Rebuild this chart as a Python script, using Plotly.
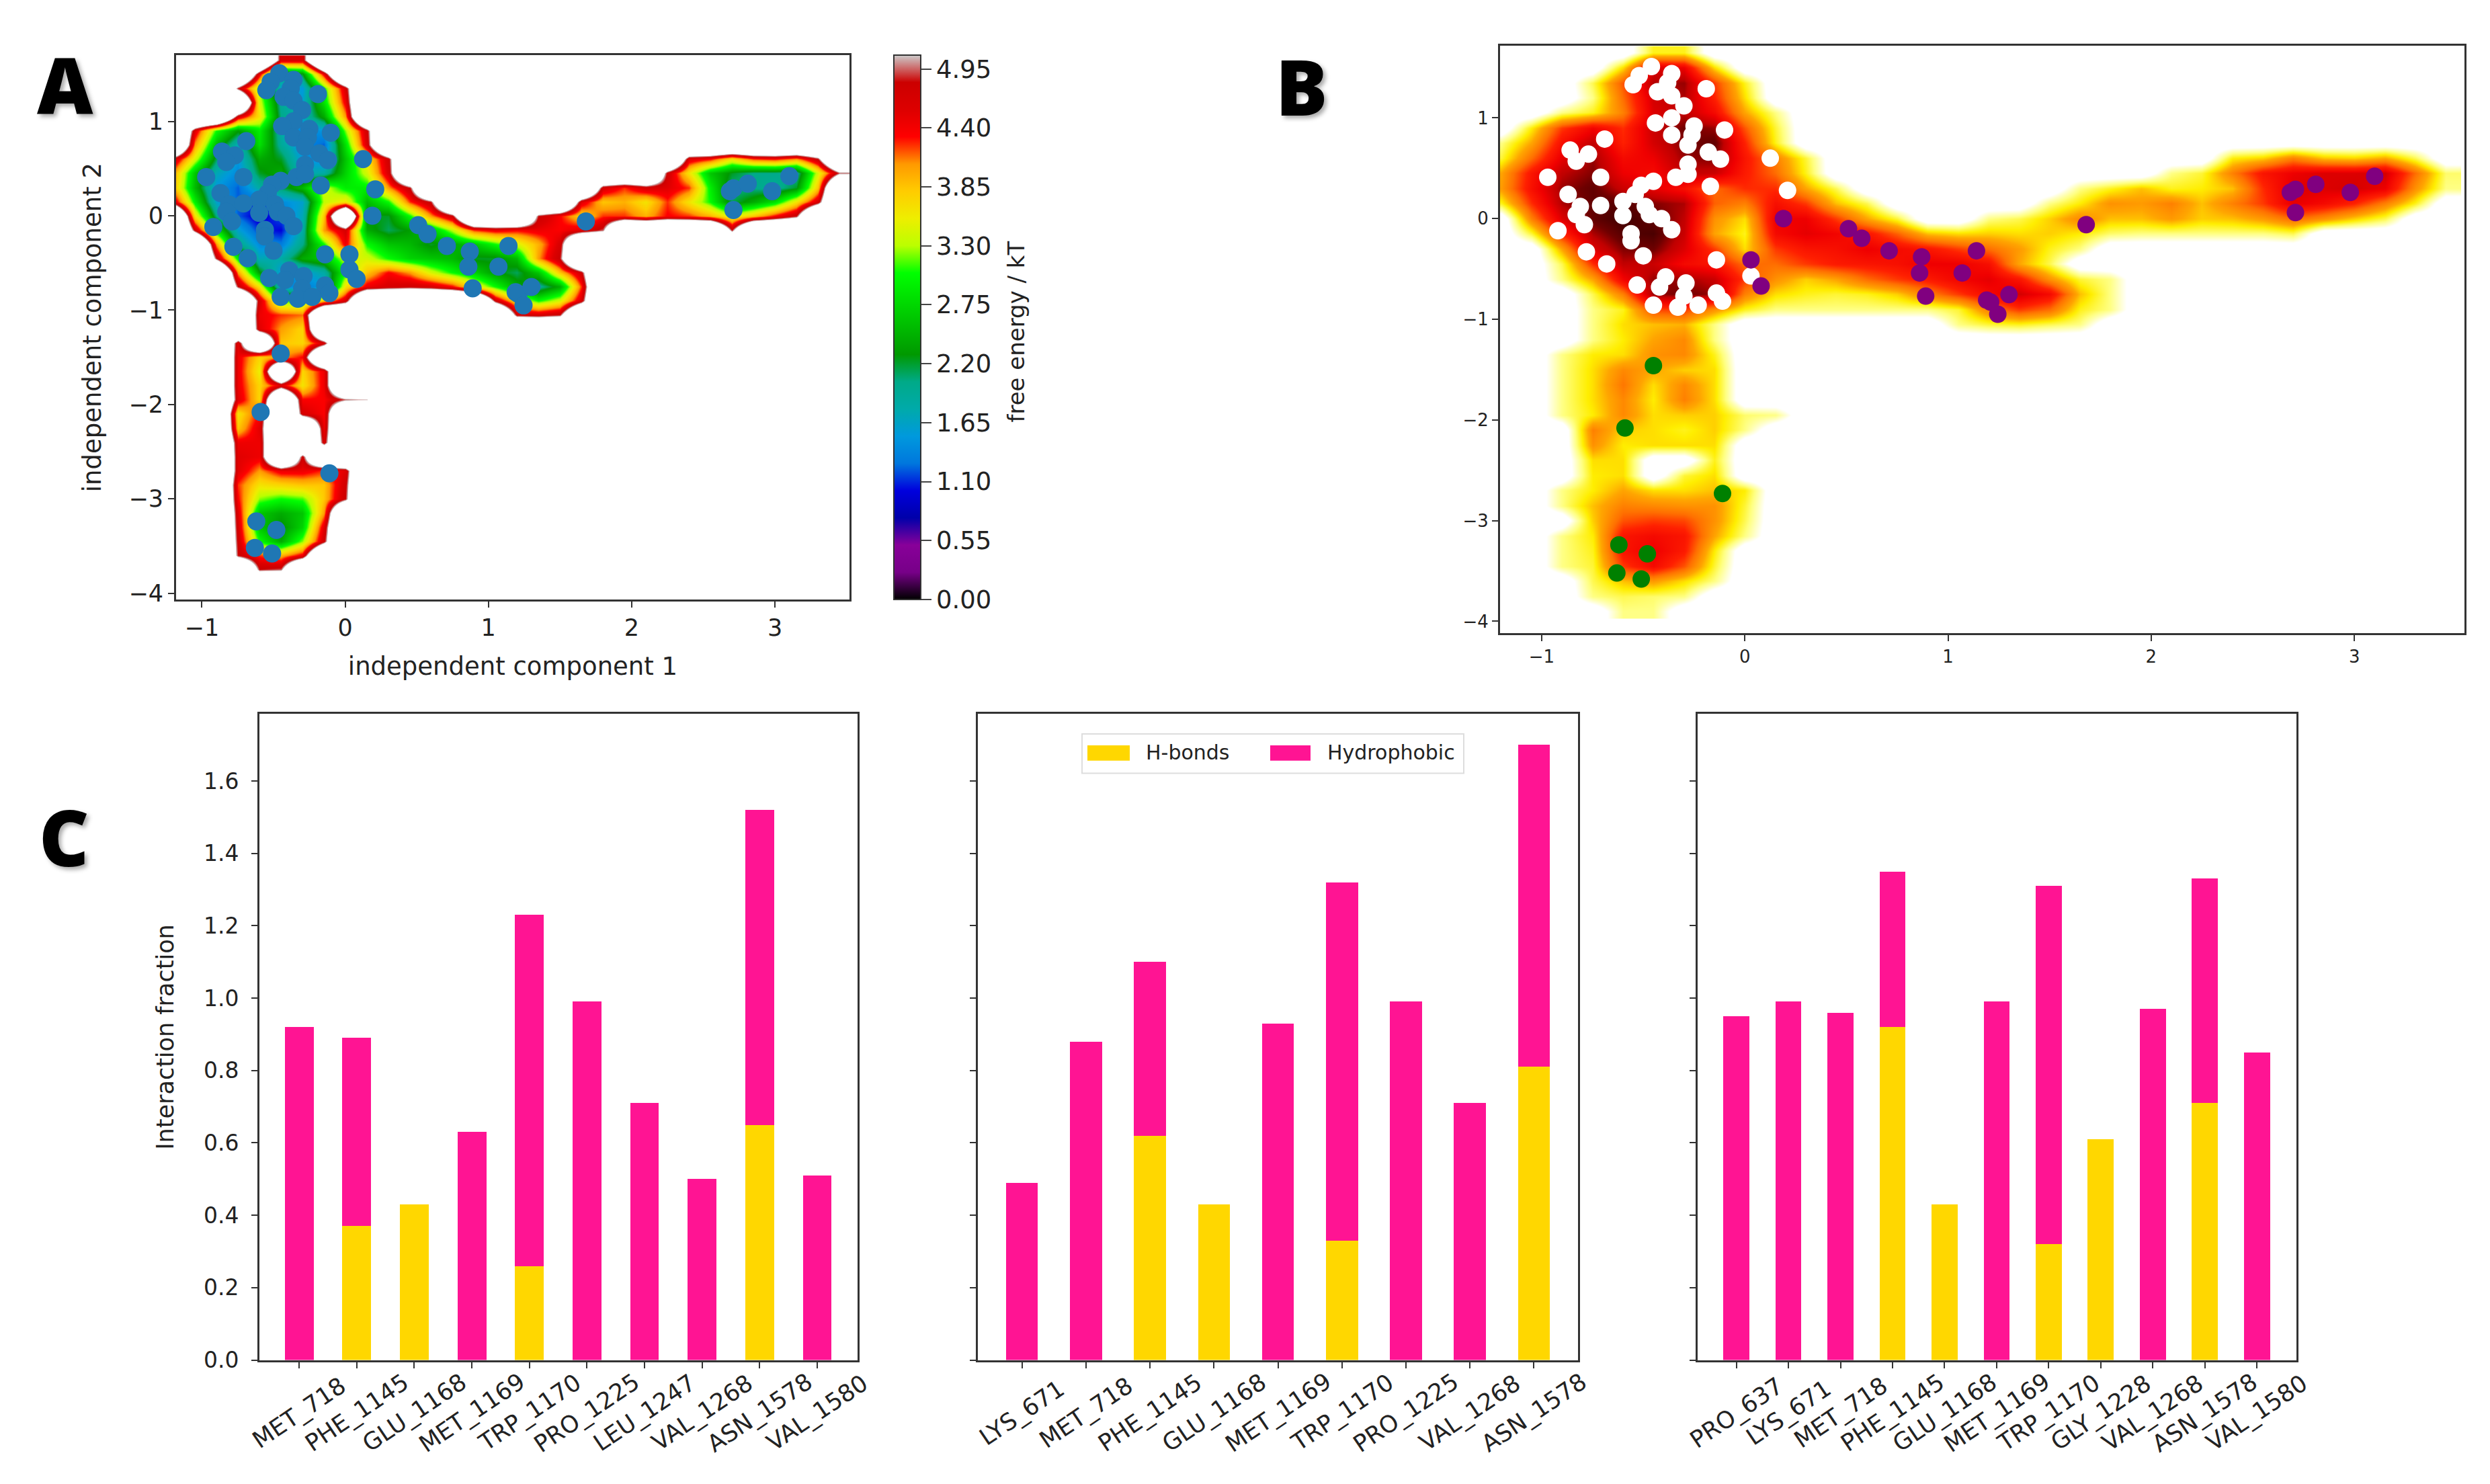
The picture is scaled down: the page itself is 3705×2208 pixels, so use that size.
import numpy as np
import plotly.graph_objects as go

W, H = 3705, 2208
PAD_X = 8  # the page sits a few px in from the window corner

# free energy grid
# 9 = nothing drawn in either map, 7 = gap in A only (B has yellow/orange there), 8 = gap in A, faint yellow in B
grid_x = [-1.2, -1.05, -0.9, -0.75, -0.6, -0.45, -0.3, -0.15, 0, 0.15, 0.3, 0.45, 0.6, 0.75, 0.9, 1.05,
          1.2, 1.35, 1.5, 1.65, 1.8, 1.95, 2.1, 2.25, 2.4, 2.55, 2.7, 2.85, 3.0, 3.15, 3.3, 3.45]
grid_y = [1.65, 1.5, 1.35, 1.2, 1.05, 0.9, 0.75, 0.6, 0.45, 0.3, 0.15, 0, -0.15, -0.3, -0.45, -0.6, -0.75, -0.9,
          -1.05, -1.2, -1.35, -1.5, -1.65, -1.8, -1.95, -2.1, -2.25, -2.4, -2.55, -2.7, -2.85, -3.0, -3.15, -3.3,
          -3.45, -3.6, -3.75, -3.9]
fe_rows = [
    [9, 9, 9, 9, 9, 4.6, 4.6],
    [9, 9, 9, 9, 4.4, 2.0, 2.2, 4.4],
    [9, 9, 9, 4.8, 3.2, 1.6, 1.5, 3.0, 4.6],
    [9, 9, 9, 8, 3.4, 1.9, 1.6, 2.8, 4.4],
    [9, 9, 8, 4.6, 3.6, 2.0, 1.7, 2.4, 4.0, 8],
    [9, 4.5, 3.0, 2.3, 2.9, 1.8, 1.3, 1.5, 3.2, 4.7],
    [8, 4.0, 2.5, 1.7, 2.8, 1.9, 1.4, 1.2, 2.8, 4.6],
    [4.7, 3.4, 2.1, 1.5, 2.4, 2.2, 1.5, 1.4, 2.6, 3.6, 4.7, 9, 9, 9, 9, 9, 9, 9, 9, 9, 9, 9, 9, 9, 4.5, 4.3, 3.6, 4.2, 4.3, 4.0, 4.8],
    [4.0, 2.6, 1.7, 1.4, 2.2, 2.4, 1.7, 1.8, 2.7, 3.4, 4.6, 9, 9, 9, 9, 9, 9, 9, 9, 9, 9, 9, 8, 4.7, 3.6, 2.6, 2.2, 2.0, 2.0, 1.9, 3.4, 4.9],
    [3.9, 2.5, 1.5, 1.2, 1.8, 2.1, 2.5, 3.4, 2.9, 2.9, 4.0, 4.8, 9, 9, 9, 9, 9, 9, 9, 8, 4.6, 4.2, 4.6, 4.5, 4.2, 2.9, 2.0, 2.0, 1.9, 2.2, 3.8, 8],
    [4.6, 2.9, 1.6, 1.2, 1.1, 1.4, 1.6, 3.3, 3.6, 2.5, 3.0, 4.2, 4.8, 9, 9, 9, 9, 9, 8, 4.5, 3.8, 3.9, 3.6, 4.2, 3.6, 3.0, 2.1, 2.4, 2.8, 3.6, 4.6],
    [9, 3.6, 2.0, 1.2, 0.9, 1.2, 1.7, 3.8, 7, 2.2, 2.2, 3.0, 4.0, 4.7, 9, 9, 8, 4.8, 4.3, 3.7, 4.2, 4.2, 3.9, 4.3, 4.2, 3.9, 3.4, 3.8, 4.3, 4.8],
    [9, 4.7, 2.8, 1.6, 1.1, 1.0, 1.8, 4.0, 4.6, 2.4, 2.1, 2.3, 2.6, 3.3, 4.2, 4.4, 4.3, 4.4, 4.3, 4.5, 4.9, 8, 8, 8, 8, 8, 4.8],
    [9, 9, 4.0, 2.0, 1.4, 1.3, 2.0, 3.0, 4.4, 3.0, 2.6, 2.5, 2.2, 2.4, 2.6, 3.0, 3.4, 3.9, 4.6, 8],
    [9, 9, 4.8, 2.9, 1.7, 1.8, 2.4, 2.6, 3.4, 3.4, 3.0, 2.7, 2.6, 2.5, 2.2, 2.2, 2.5, 4.0, 4.8],
    [9, 9, 8, 4.0, 2.3, 1.5, 1.5, 1.8, 3.0, 3.8, 4.3, 4.0, 3.4, 3.0, 2.7, 2.3, 2.1, 2.6, 3.8, 4.7, 8],
    [9, 9, 9, 4.8, 3.6, 1.5, 1.3, 1.5, 3.6, 4.4, 4.6, 4.7, 4.6, 4.3, 3.6, 3.0, 2.4, 1.9, 2.4, 4.2, 8],
    [9, 9, 9, 8, 4.6, 3.1, 3.0, 3.8, 4.6, 8, 8, 8, 8, 8, 8, 4.7, 3.6, 3.0, 3.4, 4.6, 8],
    [9, 9, 9, 8, 4.4, 4.2, 4.1, 8, 9, 9, 9, 9, 9, 9, 9, 8, 4.7, 4.6, 4.8, 8],
    [9, 9, 9, 8, 4.5, 4.0, 3.7, 8],
    [9, 9, 8, 4.5, 7, 3.8, 3.7, 4.6],
    [9, 9, 8, 4.4, 3.7, 4.0, 4.3, 7],
    [9, 9, 8, 4.4, 3.5, 7, 3.7, 4.4],
    [9, 9, 8, 4.4, 3.7, 4.5, 3.6, 4.4],
    [9, 9, 8, 4.5, 3.7, 7, 4.3, 4.3, 4.9, 5.0],
    [9, 9, 9, 3.6, 4.3, 7, 4.6, 4.3, 8],
    [9, 9, 9, 3.8, 4.5, 7, 7, 4.4],
    [9, 9, 9, 4.4, 4.4, 9, 9, 4.6],
    [9, 9, 9, 4.5, 4.4, 9, 4.7, 7],
    [9, 9, 8, 4.5, 4.0, 4.4, 4.4, 4.2, 4.5],
    [9, 9, 8, 4.2, 3.6, 3.7, 3.8, 3.8, 4.7],
    [9, 9, 9, 4.3, 3.2, 3.0, 3.1, 3.8, 4.8],
    [9, 9, 8, 4.5, 2.6, 2.4, 2.6, 4.0, 8],
    [9, 9, 8, 4.6, 2.6, 2.2, 2.7, 4.5],
    [9, 9, 8, 4.7, 3.0, 2.4, 3.2, 4.7],
    [9, 9, 9, 4.8, 4.2, 3.9, 4.4, 8],
    [9, 9, 9, 8, 4.8, 4.9, 8],
    [9, 9, 9, 9, 8, 8],
]
fe_rows = [r + [9] * (len(grid_x) - len(r)) for r in fe_rows]
fe = np.array(fe_rows, dtype=float)
fe_a = np.where(fe > 6, 7.5, fe)
fe_b = np.where(fe == 9, 6.0, np.where(fe == 7, 4.4, np.where(fe == 8, 5.0, fe)))

# projected points, same coordinates in A and B
white_x = [-0.46, -0.36, -0.52, -0.55, -0.38, -0.43, -0.19, -0.36, -0.30, -0.36, -0.44, -0.25, -0.10, -0.36, -0.26,
           -0.69, -0.28, -0.86, -0.77, -0.83, -0.18, -0.12, 0.125, -0.28, -0.97, -0.71, -0.34, -0.28, -0.45, -0.51,
           -0.17, 0.21, -0.87, -0.54, -0.60, -0.81, -0.71, -0.49, -0.83, -0.60, -0.47, -0.41, -0.79, -0.92, -0.36,
           -0.56, -0.56, -0.78, -0.50, -0.68, -0.14, 0.03, -0.39, -0.29, -0.53, -0.42, -0.14, -0.30, -0.11, -0.45,
           -0.33, -0.23]
white_y = [1.51, 1.44, 1.42, 1.33, 1.35, 1.26, 1.29, 1.22, 1.12, 1.00, 0.95, 0.92, 0.88, 0.83, 0.83,
           0.79, 0.73, 0.68, 0.64, 0.57, 0.66, 0.59, 0.60, 0.54, 0.41, 0.41, 0.41, 0.44, 0.37, 0.33,
           0.32, 0.28, 0.24, 0.24, 0.17, 0.12, 0.13, 0.12, 0.04, 0.03, 0.04, 0.0, -0.06, -0.12, -0.11,
           -0.15, -0.22, -0.33, -0.37, -0.45, -0.41, -0.57, -0.58, -0.64, -0.66, -0.68, -0.74, -0.77, -0.82, -0.86,
           -0.88, -0.86]
purple_x = [0.03, 0.08, 0.19, 0.51, 0.575, 0.71, 0.87, 0.86, 0.89, 1.07, 1.14, 1.19, 1.21, 1.30, 1.245, 1.68,
            2.685, 2.71, 2.71, 2.81, 2.98, 3.10]
purple_y = [-0.41, -0.67, 0.0, -0.10, -0.195, -0.32, -0.38, -0.54, -0.77, -0.54, -0.32, -0.81, -0.83, -0.755, -0.95,
            -0.06, 0.26, 0.29, 0.06, 0.34, 0.26, 0.42]
green_x = [-0.45, -0.59, -0.11, -0.62, -0.48, -0.63, -0.51]
green_y = [-1.46, -2.08, -2.73, -3.24, -3.33, -3.52, -3.58]

# interaction bars
res_1 = ["MET_718", "PHE_1145", "GLU_1168", "MET_1169", "TRP_1170", "PRO_1225", "LEU_1247", "VAL_1268", "ASN_1578", "VAL_1580"]
hb_1 = [0, 0.37, 0.43, 0, 0.26, 0, 0, 0, 0.65, 0]
hyd_1 = [0.92, 0.52, 0, 0.63, 0.97, 0.99, 0.71, 0.50, 0.87, 0.51]
res_2 = ["LYS_671", "MET_718", "PHE_1145", "GLU_1168", "MET_1169", "TRP_1170", "PRO_1225", "VAL_1268", "ASN_1578"]
hb_2 = [0, 0, 0.62, 0.43, 0, 0.33, 0, 0, 0.81]
hyd_2 = [0.49, 0.88, 0.48, 0, 0.93, 0.99, 0.99, 0.71, 0.89]
res_3 = ["PRO_637", "LYS_671", "MET_718", "PHE_1145", "GLU_1168", "MET_1169", "TRP_1170", "GLY_1228", "VAL_1268", "ASN_1578", "VAL_1580"]
hb_3 = [0, 0, 0, 0.92, 0.43, 0, 0.32, 0.61, 0, 0.71, 0]
hyd_3 = [0.95, 0.99, 0.96, 0.43, 0, 0.99, 0.99, 0, 0.97, 0.62, 0.85]

cbar_ticks = [0, 0.55, 1.10, 1.65, 2.20, 2.75, 3.30, 3.85, 4.40, 4.95]
c_ticks = [0, 0.2, 0.4, 0.6, 0.8, 1.0, 1.2, 1.4, 1.6]

FE_MAX = 5.08
spectral = [[0, "#000000"], [0.05, "#770088"], [0.10, "#880099"], [0.15, "#0000aa"], [0.20, "#0000dd"],
            [0.25, "#0077dd"], [0.30, "#0099dd"], [0.35, "#00aaaa"], [0.40, "#00aa88"], [0.45, "#009900"],
            [0.50, "#00bb00"], [0.55, "#00dd00"], [0.60, "#00ff00"], [0.65, "#bbff00"], [0.70, "#eeee00"],
            [0.75, "#ffcc00"], [0.80, "#ff9900"], [0.85, "#ff0000"], [0.90, "#dd0000"], [0.95, "#cc0000"],
            [1, "#cccccc"]]
# same colours squeezed so everything above the top of the colorbar is white
spectral_fill = [[s * FE_MAX / 7.5 * 0.99, c] for s, c in spectral] + [[FE_MAX / 7.5, "#ffffff"], [1, "#ffffff"]]
hot = [[0, "#400000"], [0.15, "#400000"], [0.22, "#700000"], [0.28, "#c00000"], [0.37, "#f00000"], [0.47, "#ff2000"],
       [0.57, "#ff7000"], [0.67, "#ffa500"], [0.75, "#ffee00"], [0.83, "#ffff80"], [0.92, "#ffffff"], [1, "#ffffff"]]
DOT_BLUE = "#1f77b4"
GOLD = "#ffd700"
PINK = "#ff1493"
FONT = "DejaVu Sans"
TXT = "#222222"


def dom_x(a, b):
    return [(a - PAD_X) / W, (b - PAD_X) / W]


def dom_y(top, bottom):
    return [1 - bottom / H, 1 - top / H]


def paper_x(px):
    return (px - PAD_X) / W


def paper_y(py):
    return 1 - py / H


fig = go.Figure()

# panel A
fig.add_trace(go.Heatmap(x=grid_x, y=grid_y, z=fe_a, colorscale=spectral_fill, zmin=0, zmax=7.5, zsmooth="best",
                         showscale=False, xaxis="x", yaxis="y"))
fig.add_trace(go.Scatter(x=white_x + purple_x + green_x, y=white_y + purple_y + green_y, mode="markers",
                         marker=dict(color=DOT_BLUE, size=27), showlegend=False, xaxis="x", yaxis="y"))
# colorbar only
fig.add_trace(go.Scatter(
    x=[None], y=[None], mode="markers", showlegend=False, xaxis="x", yaxis="y",
    marker=dict(color=[0], colorscale=spectral, cmin=0, cmax=FE_MAX, showscale=True,
                colorbar=dict(x=paper_x(1330), xanchor="left", xpad=0, y=paper_y(892), yanchor="bottom", ypad=0,
                              len=(892 - 75) / H, thickness=40, tickvals=cbar_ticks,
                              ticktext=["%.2f" % v for v in cbar_ticks], ticks="outside", ticklen=15, tickwidth=2,
                              tickfont=dict(family=FONT, size=37, color=TXT), outlinewidth=2, outlinecolor="#333333")),
))

# panel B
fig.add_trace(go.Heatmap(x=grid_x, y=grid_y, z=fe_b, colorscale=hot, zmin=0, zmax=6, zsmooth="best",
                         showscale=False, xaxis="x2", yaxis="y2"))
for xs, ys, col in [(white_x, white_y, "white"), (purple_x, purple_y, "purple"), (green_x, green_y, "green")]:
    fig.add_trace(go.Scatter(x=xs, y=ys, mode="markers", marker=dict(color=col, size=26),
                             showlegend=False, xaxis="x2", yaxis="y2"))

# panel C bars
panels = [(res_1, hb_1, hyd_1, "x3", "y3"), (res_2, hb_2, hyd_2, "x4", "y4"), (res_3, hb_3, hyd_3, "x5", "y5")]
for res, hb, hyd, xa, ya in panels:
    fig.add_trace(go.Bar(x=res, y=hb, name="H-bonds", marker=dict(color=GOLD, line=dict(width=0)), width=0.5,
                         xaxis=xa, yaxis=ya, showlegend=False))
    fig.add_trace(go.Bar(x=res, y=hyd, name="Hydrophobic", marker=dict(color=PINK, line=dict(width=0)), width=0.5,
                         xaxis=xa, yaxis=ya, showlegend=False))

annots = []
for res, hb, hyd, xa, ya in panels:
    for r in res:
        annots.append(dict(x=r, y=paper_y(2113), xref=xa, yref="paper", text=r, textangle=-34, showarrow=False,
                           xanchor="center", yanchor="middle", font=dict(family=FONT, size=35, color=TXT)))
for letter, px, py in [("A", 97, 118), ("B", 1937, 121), ("C", 95, 1248)]:
    annots.append(dict(x=paper_x(px), y=paper_y(py), xref="paper", yref="paper", text=letter, showarrow=False,
                       xanchor="center", yanchor="middle",
                       font=dict(family="Noto Sans", size=115, color="black", weight=900, shadow="4px 4px 6px #aaaaaa")))
annots.append(dict(x=paper_x(1512), y=paper_y(490), xref="paper", yref="paper", text="free energy / kT", textangle=-90,
                   xanchor="center", yanchor="middle", showarrow=False, font=dict(family=FONT, size=34, color=TXT)))

# legend of the middle panel, built by hand for the wide swatches
shapes = [dict(type="rect", xref="paper", yref="paper", x0=paper_x(1610), x1=paper_x(2178), y0=paper_y(1153),
               y1=paper_y(1094), line=dict(color="#dddddd", width=2), fillcolor="white", layer="above")]
for label, col, sx0, sx1, tx in [("H-bonds", GOLD, 1618, 1681, 1767), ("Hydrophobic", PINK, 1890, 1950, 2070)]:
    shapes.append(dict(type="rect", xref="paper", yref="paper", x0=paper_x(sx0), x1=paper_x(sx1), y0=paper_y(1134),
                       y1=paper_y(1111), line=dict(width=0), fillcolor=col, layer="above"))
    annots.append(dict(x=paper_x(tx), y=paper_y(1122), xref="paper", yref="paper", text=label, showarrow=False,
                       xanchor="center", yanchor="middle", font=dict(family=FONT, size=30, color=TXT)))

axis_base = dict(showgrid=False, zeroline=False, showline=True, linecolor="#333333", linewidth=3, mirror=True,
                 ticks="outside", ticklen=9, tickwidth=2, tickcolor="#333333")


def num_axis(size, **kw):
    return dict(axis_base, tickfont=dict(family=FONT, size=size, color=TXT), **kw)


fig.update_layout(
    width=W, height=H, margin=dict(l=0, r=0, t=0, b=0), paper_bgcolor="white", plot_bgcolor="white",
    barmode="stack", annotations=annots, shapes=shapes,
    xaxis=num_axis(35, domain=dom_x(262, 1264), range=[-1.18, 3.52], tickvals=[-1, 0, 1, 2, 3], anchor="y",
                   title=dict(text="independent component 1", standoff=26, font=dict(family=FONT, size=37, color=TXT))),
    yaxis=num_axis(35, domain=dom_y(75, 892), range=[-4.067, 1.70], tickvals=[-4, -3, -2, -1, 0, 1], anchor="x",
                   title=dict(text="independent component 2", standoff=30, font=dict(family=FONT, size=37, color=TXT))),
    xaxis2=num_axis(26, domain=dom_x(2232, 3667), range=[-1.205, 3.542], tickvals=[-1, 0, 1, 2, 3], anchor="y2"),
    yaxis2=num_axis(26, domain=dom_y(61, 943), range=[-4.12, 1.714], tickvals=[-4, -3, -2, -1, 0, 1], anchor="x2"),
    xaxis3=dict(axis_base, domain=dom_x(386, 1276), range=[-0.69, 9.7], type="category", categoryorder="array",
                categoryarray=res_1, showticklabels=False, anchor="y3"),
    yaxis3=num_axis(33, domain=dom_y(1064, 2034), range=[0, 1.785], tickvals=c_ticks, tickformat=".1f", anchor="x3",
                    ticklabelstandoff=12,
                    title=dict(text="Interaction fraction", standoff=34, font=dict(family=FONT, size=35, color=TXT))),
    xaxis4=dict(axis_base, domain=dom_x(1455, 2348), range=[-0.69, 8.69], type="category", categoryorder="array",
                categoryarray=res_2, showticklabels=False, anchor="y4"),
    yaxis4=dict(axis_base, domain=dom_y(1064, 2034), range=[0, 1.785], tickvals=c_ticks, showticklabels=False, anchor="x4"),
    xaxis5=dict(axis_base, domain=dom_x(2526, 3417), range=[-0.744, 10.76], type="category", categoryorder="array",
                categoryarray=res_3, showticklabels=False, anchor="y5"),
    yaxis5=dict(axis_base, domain=dom_y(1064, 2034), range=[0, 1.785], tickvals=c_ticks, showticklabels=False, anchor="x5"),
)

fig.write_html("out.html")
